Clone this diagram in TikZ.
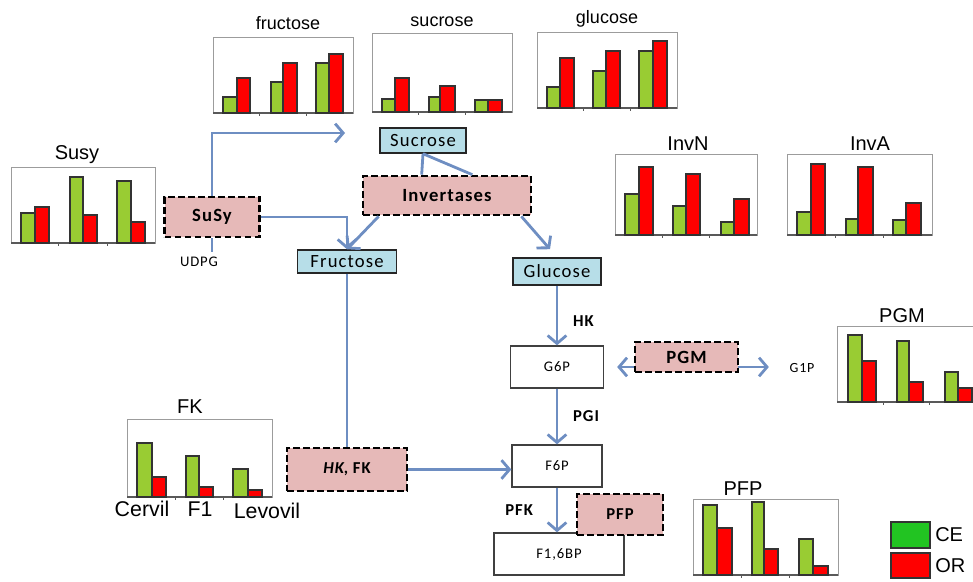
\documentclass[tikz,border=0pt]{standalone}
\usepackage{fontspec}
\usepackage{tikz}
\usetikzlibrary{positioning,arrows.meta,calc}
\setmainfont{Carlito}[LetterSpace=6]
\newfontfamily\chartfont{Liberation Sans}
\definecolor{flow}{HTML}{6E8EC2}
\definecolor{sugar}{HTML}{B7DEE8}
\definecolor{enzyme}{HTML}{E6B9B8}
\definecolor{barce}{HTML}{99CC33}
\definecolor{baror}{HTML}{FF0000}
\definecolor{legce}{HTML}{22C422}
\definecolor{frame}{HTML}{9C9C9C}

% small bar chart: x0, y0, x1, y1 (axis), bars xl/xr/top/colour
\newcommand{\minichart}[5]{%
  \draw[chartbox] (#1,#2) rectangle (#3,#4);
  \draw[chartaxis] (#1,#4) -- (#3,#4);
  \foreach \fr in {0.333,0.667} \draw[chartaxis] ($(#1,#4)!\fr!(#3,#4)$) -- ++(0,3);
  \foreach \xa/\xb/\yt/\col in {#5} \draw[bar,fill=\col] (\xa,#4) rectangle (\xb,\yt);}

\begin{document}
\begin{tikzpicture}[x=0.75pt,y=-0.75pt,
  font=\fontsize{11}{13}\selectfont,
  sugarbox/.style={draw=black!85,line width=1.1pt,fill=sugar,minimum height=18.75pt,inner sep=0pt,font=\fontsize{14}{16}\selectfont},
  metabox/.style={draw=black!75,line width=1pt,fill=white,minimum height=31.5pt,inner sep=0pt,font=\fontsize{11}{13}\selectfont},
  enzbox/.style={draw=black,line width=2pt,dash pattern=on 5pt off 2.5pt,fill=enzyme,inner sep=0pt,font=\bfseries\fontsize{14}{16}\selectfont},
  arr/.style={-{Straight Barb[length=6pt,width=14pt]},line width=2.1pt,draw=flow},
  dbl/.style={arr,{Straight Barb[length=6pt,width=14pt]}-{Straight Barb[length=6pt,width=14pt]}},
  link/.style={line width=2.1pt,draw=flow},
  lbl/.style={font=\bfseries\fontsize{12.5}{14}\selectfont,inner sep=2pt},
  chartbox/.style={draw=frame,line width=0.7pt},
  chartaxis/.style={draw=black!65,line width=0.8pt},
  bar/.style={draw=black!80,line width=0.8pt},
  ctitle/.style={font=\chartfont\fontsize{15}{17}\selectfont,anchor=base,inner sep=0pt},
  legsq/.style={draw=black!80,line width=0.8pt,minimum width=29.25pt,inner sep=0pt}]
  \useasboundingbox (0,0) rectangle (973,581);

  % charts
  \minichart{213}{37}{353}{113}{223/237/97/barce,237/250/78/baror,271/283/82/barce,283/297/63/baror,316/329/63/barce,329/343/54/baror}
  \node[ctitle,font=\chartfont\fontsize{13.5}{16}\selectfont] (tfru) at (288,30) {fructose};
  \minichart{372}{33}{512}{112}{382/395/99/barce,395/409/78/baror,429/440/97/barce,440/455/86/baror,475/488/100/barce,488/502/100/baror}
  \node[ctitle,font=\chartfont\fontsize{13.5}{16}\selectfont] (tsuc) at (442,27) {sucrose};
  \minichart{537}{32}{677}{108}{547/560/87/barce,560/574/58/baror,593/606/71/barce,606/620/51/baror,639/653/51/barce,653/667/41/baror}
  \node[ctitle,font=\chartfont\fontsize{13.5}{16}\selectfont] (tglu) at (607,24) {glucose};
  \minichart{11}{167}{155}{243}{21/35/213/barce,35/49/207/baror,70/83/177/barce,83/97/215/baror,117/131/181/barce,131/145/222/baror}
  \node[ctitle] (tsusy) at (77,159) {Susy};
  \minichart{615}{154}{757}{235}{625/639/194/barce,639/653/167/baror,673/686/206/barce,686/700/174/baror,721/734/222/barce,734/749/199/baror}
  \node[ctitle] (tinvn) at (688,151) {InvN};
  \minichart{787}{154}{932}{235}{797/811/212/barce,811/825/164/baror,846/858/219/barce,858/873/167/baror,893/906/220/barce,906/921/203/baror}
  \node[ctitle] (tinva) at (870,151) {InvA};
  \minichart{837}{326}{976}{402}{848/862/335/barce,862/876/361/baror,897/909/341/barce,909/923/382/baror,945/958/372/barce,958/972/388/baror}
  \node[ctitle] (tpgm) at (902,322) {PGM};
  \minichart{127}{419}{272}{497}{137/152/443/barce,152/166/477/baror,186/199/456/barce,199/213/487/baror,233/248/469/barce,248/262/490/baror}
  \node[ctitle] (tfk) at (190,413) {FK};
  \node[ctitle,font=\chartfont\fontsize{16}{18}\selectfont] (cervil) at (142,516) {Cervil};
  \node[ctitle,font=\chartfont\fontsize{16}{18}\selectfont] (fone) at (200,516) {F1};
  \node[ctitle,font=\chartfont\fontsize{16}{18}\selectfont] (levovil) at (267,518) {Levovil};
  \minichart{693}{499}{838}{575}{703/717/505/barce,717/732/528/baror,752/764/502/barce,764/778/549/baror,799/813/539/barce,813/828/566/baror}
  \node[ctitle] (tpfp) at (743,495) {PFP};

  % legend
  \node[legsq,fill=legce,minimum height=19.5pt] (sqce) at (910.5,535) {};
  \node[legsq,fill=baror,minimum height=18.75pt] (sqor) at (910.5,565.5) {};
  \node[font=\chartfont\fontsize{15}{17}\selectfont,anchor=west,inner sep=0pt] (lce) at (935,535) {CE};
  \node[font=\chartfont\fontsize{15}{17}\selectfont,anchor=west,inner sep=0pt] (lor) at (935,566) {OR};

  % pathway
  \node[sugarbox,minimum width=64.5pt] (suc) at (423,140.5) {Sucrose};
  \node[sugarbox,minimum width=74.25pt,minimum height=17.25pt] (fru) at (347,261.5) {Fructose};
  \node[sugarbox,minimum width=66pt,minimum height=20.25pt] (glu) at (557,271.5) {Glucose};
  \node[enzbox,minimum width=71.25pt,minimum height=30pt] (susy) at (212,217) {SuSy};
  \node[enzbox,minimum width=126pt,minimum height=29.25pt] (inv) at (447,195.5) {Invertases};
  \node[enzbox,minimum width=90pt,minimum height=32.25pt,font=\bfseries\fontsize{12.5}{14}\selectfont] (hkfk) at (347,469.5) {\itshape HK\upshape, FK};
  \node[metabox,minimum width=69.75pt] (g6p) at (557,367) {G6P};
  \node[metabox,minimum width=67.5pt] (f6p) at (557,466) {F6P};
  \node[metabox,minimum width=97.5pt] (f16bp) at (559,554) {F1,6BP};
  \node[font=\fontsize{11}{13}\selectfont] (udpg) at (199,262) {UDPG};
  \node[font=\fontsize{10.5}{12}\selectfont] (g1p) at (802,368) {G1P};
  \coordinate (sucin) at (345,133);

  \draw[arr] (susy.north) |- (sucin);
  \draw[link] (susy.south) -- (susy.south |- udpg.north);
  \draw[arr] (susy.east) -| (fru.north);
  \draw[link] (suc.south) -- ([xshift=-19pt]inv.north);
  \draw[link] (suc.south) -- ([xshift=19pt]inv.north);
  \draw[arr] ([xshift=12.75pt]inv.south west) -- (fru.north);
  \draw[arr,shorten >=8pt] ([xshift=-8.25pt]inv.south east) -- (glu.north);
  \draw[arr] (glu) -- node[lbl,right=9pt,pos=0.6]{HK} (g6p);
  \draw[dbl] ([xshift=9.75pt]g6p.east) -- ([xshift=-12pt]g6p.east -| g1p.west);
  \draw[arr] (g6p) -- node[lbl,right=9pt]{PGI} (f6p);
  \draw[link] (fru) -- (hkfk);
  \draw[arr] (hkfk.east) -- (hkfk.east -| f6p.west);
  \draw[arr] (f6p.south) -- node[lbl,left=15pt,font=\bfseries\fontsize{12.5}{14}\selectfont]{PFK} (f6p.south |- f16bp.north);

  \node[enzbox,minimum width=77.25pt,minimum height=22.5pt] (pgm) at (686.5,357) {PGM};
  \node[enzbox,minimum width=64.5pt,minimum height=30.75pt,font=\bfseries\fontsize{12.5}{14}\selectfont] (pfp) at (620,514.5) {PFP};
\end{tikzpicture}
\end{document}
